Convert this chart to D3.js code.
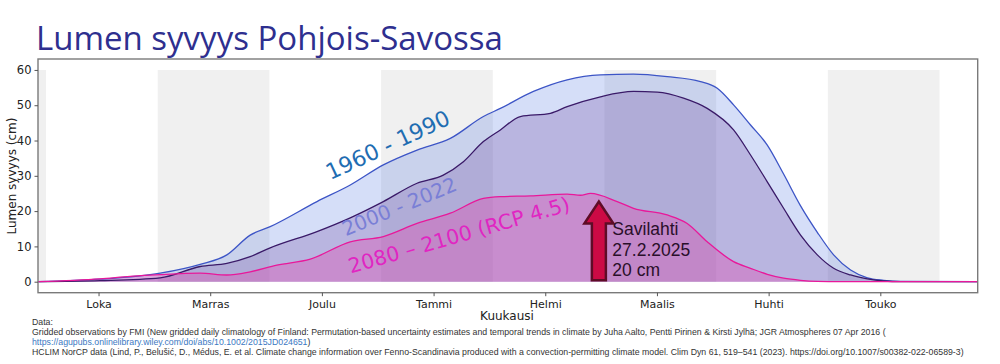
<!DOCTYPE html>
<html><head><meta charset="utf-8">
<script src="https://cdn.jsdelivr.net/npm/d3@7"></script>
<style>
body{margin:0;background:#fff;}
svg{display:block;}
</style></head>
<body><svg id="c" width="1000" height="364"></svg>
<script>
// ---- data (x = months since 1 Oct, y = snow depth cm) ----
const monthLabels = ["Loka","Marras","Joulu","Tammi","Helmi","Maalis","Huhti","Touko"];
const yTicks = [0,10,20,30,40,50,60];
const shadedMonths = [-1,1,3,5,7];

const blueX  = [-0.072,0.484,1.022,1.380,1.619,1.828,2.007,2.426,2.724,3.020,3.322,3.620,3.916,4.068,4.364,4.666,4.964,5.260,5.562,5.860,6.010,6.156,6.308,6.458,6.604,6.756,6.906,7.052,7.204,7.354,7.500,7.652,8.342];
const blueY  = [0,0.7,2.4,4.9,7.6,13.2,15.6,22.7,27.4,33.1,37.3,40.6,46.8,49.1,53.9,57.2,58.6,58.8,58.1,56.7,54.8,50.1,44.4,38.7,30.5,21.5,14.0,7.6,3.3,1.1,0.4,0.1,0];

const purpX  = [-0.072,0.484,1.022,1.380,1.619,1.828,2.007,2.426,2.724,3.020,3.322,3.557,3.737,3.916,4.068,4.247,4.516,4.666,4.964,5.260,5.472,5.708,5.920,6.156,6.308,6.458,6.604,6.756,6.906,7.052,7.204,7.354,7.500,7.652,8.342];
const purpY  = [0,0.3,1.1,4.3,5.2,7.1,9.6,14.2,18.1,22.7,27.9,30.2,34.0,39.7,43.0,46.8,47.7,49.6,52.4,53.9,53.7,52.0,49.1,43.0,35.9,28.3,20.8,13.2,7.6,3.8,1.9,0.8,0.2,0,0];

const pinkX  = [-0.072,0.484,0.753,1.022,1.380,1.619,1.828,2.067,2.366,2.724,3.020,3.322,3.620,3.916,4.068,4.337,4.666,4.785,4.875,5.114,5.260,5.562,5.741,5.920,6.156,6.308,6.458,6.604,6.756,6.906,7.115,8.342];
const pinkY  = [0,0.8,1.5,2.0,2.4,1.9,2.8,4.7,6.4,11.3,12.8,16.5,19.4,23.6,24.1,24.3,24.8,24.5,25.0,22.7,20.8,18.9,16.5,11.3,5.7,3.8,2.1,1.0,0.4,0.1,0,0];

const seriesNames = ["1960 - 1990","2000 - 2022","2080 – 2100 (RCP 4.5)"];
const obsX = 4.95, obsTip = 22.7;
const obsLines = ["Savilahti","27.2.2025","20 cm"];

// ---- layout ----
const svg = d3.select("#c");
const L=38, R=977.7, T=59, B=292.7;
const x = d3.scaleLinear().domain([-0.072,8.342]).range([L,R]);
const y = d3.scaleLinear().domain([-3.12,63.1]).range([B,T]);

svg.append("clipPath").attr("id","pc").append("rect")
  .attr("x",L).attr("y",T).attr("width",R-L).attr("height",B-T);
const g = svg.append("g").attr("clip-path","url(#pc)");

// month shading
g.selectAll("rect.band").data(shadedMonths).join("rect")
  .attr("x",d=>x(d)).attr("width",d=>x(d+1)-x(d))
  .attr("y",y(60)).attr("height",y(0)-y(60)).attr("fill","#f0f0f0");

const mk = (xs,ys)=>xs.map((v,i)=>[v,ys[i]]);
const series = [
  {d:mk(blueX,blueY), fill:"rgba(65,105,225,0.22)", line:"#3d55c6"},
  {d:mk(purpX,purpY), fill:"rgba(110,70,160,0.27)", line:"#3a1a68"},
  {d:mk(pinkX,pinkY), fill:"rgba(230,60,170,0.33)", line:"#e8189a"}
];
const area = d3.area().x(d=>x(d[0])).y0(y(0)).y1(d=>y(d[1])).curve(d3.curveMonotoneX);
const line = d3.line().x(d=>x(d[0])).y(d=>y(d[1])).curve(d3.curveMonotoneX);
series.forEach(s=>g.append("path").attr("d",area(s.d)).attr("fill",s.fill));
series.forEach(s=>g.append("path").attr("d",line(s.d)).attr("fill","none").attr("stroke",s.line).attr("stroke-width",1.3));

// arrow annotation
const ax = x(obsX), ay0 = y(0)-1.5, ayTip = y(obsTip);
const sw=7, hw=14.5, hl=22;
const arrow = [[ax-sw,ay0],[ax-sw,ayTip+hl],[ax-hw,ayTip+hl],[ax,ayTip],[ax+hw,ayTip+hl],[ax+sw,ayTip+hl],[ax+sw,ay0]];
g.append("path").attr("d",d3.line()(arrow)+"Z").attr("fill","#cc0a45").attr("stroke","#5e0c26").attr("stroke-width",2.5).attr("stroke-linejoin","miter");
const ann = svg.append("text").attr("x",ax+13.5).attr("font-family","Liberation Sans, Arial, sans-serif").attr("font-size",17.5).attr("fill","#2a0f2a");
obsLines.forEach((t,i)=>ann.append("tspan").attr("x",ax+13.5).attr("y",235+i*20.7).text(t));

// series labels
const lab = [
  {t:seriesNames[0], x:391, y:152, r:-25, c:"#1f6db2", s:22},
  {t:seriesNames[1], x:402, y:213, r:-22.5, c:"#7a7fd6", s:20},
  {t:seriesNames[2], x:461, y:242, r:-16, c:"#e026c2", s:20.5}
];
lab.forEach(l=>svg.append("text").attr("transform",`translate(${l.x},${l.y}) rotate(${l.r})`)
  .attr("text-anchor","middle").attr("font-family","DejaVu Sans, sans-serif").attr("font-size",l.s).attr("fill",l.c).text(l.t));

// frame
svg.append("rect").attr("x",L).attr("y",T).attr("width",R-L).attr("height",B-T)
  .attr("fill","none").attr("stroke","#7a7a7a").attr("stroke-width",1.4);

// y axis
const ya = svg.append("g").attr("transform",`translate(${L},0)`)
  .call(d3.axisLeft(y).tickValues(yTicks).tickSize(3.5).tickPadding(3));
ya.select(".domain").remove();
ya.selectAll("line").attr("stroke","#555");
ya.selectAll("text").attr("font-family","DejaVu Sans, sans-serif").attr("font-size",11.5).attr("fill","#222");

// x axis
const xa = svg.append("g").attr("transform",`translate(0,${B})`)
  .call(d3.axisBottom(x).tickValues(monthLabels.map((d,i)=>i+0.47)).tickFormat((d,i)=>monthLabels[i]).tickSize(3.5).tickPadding(4));
xa.select(".domain").remove();
xa.selectAll("line").attr("stroke","#555");
xa.selectAll("text").attr("font-family","DejaVu Sans, sans-serif").attr("font-size",11).attr("fill","#222");

svg.append("text").attr("x",507).attr("y",320).attr("text-anchor","middle")
  .attr("font-family","DejaVu Sans, sans-serif").attr("font-size",12).attr("fill","#222").text("Kuukausi");
svg.append("text").attr("transform",`translate(16,176) rotate(-90)`).attr("text-anchor","middle")
  .attr("font-family","DejaVu Sans, sans-serif").attr("font-size",12).attr("fill","#222").text("Lumen syvyys (cm)");

// title
svg.append("text").attr("x",36).attr("y",49.5).attr("font-family","Open Sans, sans-serif").attr("font-size",33)
  .attr("fill","#2e2f8f").text("Lumen syvyys Pohjois-Savossa");

// footer
const ff = "Liberation Sans, Arial, sans-serif", fs = 8.75;
const foot = svg.append("g").attr("font-family",ff).attr("font-size",fs).attr("fill","#333");
foot.append("text").attr("x",32).attr("y",325).text("Data:");
foot.append("text").attr("x",32).attr("y",335.3).text("Gridded observations by FMI (New gridded daily climatology of Finland: Permutation-based uncertainty estimates and temporal trends in climate by Juha Aalto, Pentti Pirinen & Kirsti Jylhä; JGR Atmospheres 07 Apr 2016 (");
const lk = foot.append("text").attr("x",32).attr("y",344.5);
lk.append("tspan").attr("fill","#3b78c2").text("https://agupubs.onlinelibrary.wiley.com/doi/abs/10.1002/2015JD024651");
lk.append("tspan").text(")");
foot.append("text").attr("x",32).attr("y",354.5).text("HCLIM NorCP data (Lind, P., Belušić, D., Médus, E. et al. Climate change information over Fenno-Scandinavia produced with a convection-permitting climate model. Clim Dyn 61, 519–541 (2023). https://doi.org/10.1007/s00382-022-06589-3)");
</script></body></html>
